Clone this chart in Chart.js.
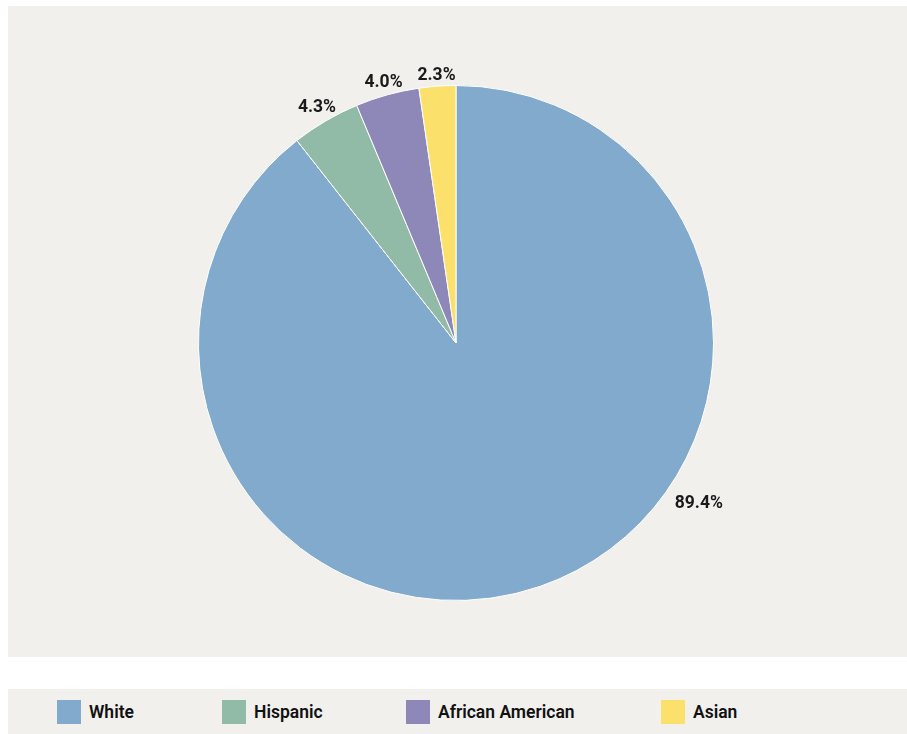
<!DOCTYPE html>
<html lang="en">
<head>
    <meta charset="UTF-8">
    <title>Population by Race/Ethnicity</title>
    <script src="https://cdn.jsdelivr.net/npm/chart.js"></script>
    <style>
        body { margin: 0; background: #fff; width: 907px; height: 734px; position: relative; overflow: hidden; }
        #panel { position: absolute; left: 8px; top: 6px; width: 899px; height: 651px; background: #f1f0ed; }
        #legend { position: absolute; left: 8px; top: 689px; width: 899px; height: 45px; background: #f1f0ed;
                  display: flex; align-items: center; padding-left: 49px; box-sizing: border-box;
                  font: 600 17.5px Roboto, "Liberation Sans", sans-serif; color: #111; }
        .item { display: flex; align-items: center; }
        .box { width: 24px; height: 24px; margin-right: 8px; }
    </style>
</head>
<body>
    <div id="panel"><canvas id="pie" width="899" height="651"></canvas></div>
    <div id="legend"></div>

    <script>
        // data
        const labels = ['White', 'Hispanic', 'African American', 'Asian'];
        const shares = [89.4, 4.3, 4.0, 2.3];
        const colors = ['#81aacd', '#91bba7', '#8e88b8', '#fbe06b'];

        // legend item widths (px), to keep the strip spacing of the original
        const legendWidths = [165, 184, 255, 120];

        // percent labels outside the pie
        const outsideLabels = {
            id: 'outsideLabels',
            afterDatasetsDraw(chart, args, opts) {
                const ctx = chart.ctx;
                const meta = chart.getDatasetMeta(0);
                ctx.save();
                ctx.font = 'bold 17.5px Roboto, "Liberation Sans", sans-serif';
                ctx.fillStyle = '#1a1a1a';
                ctx.textAlign = 'center';
                ctx.textBaseline = 'middle';
                meta.data.forEach((arc, i) => {
                    const p = arc.getProps(['x', 'y', 'startAngle', 'endAngle', 'outerRadius'], true);
                    let a = (p.startAngle + p.endAngle) / 2;
                    if (opts.angles[i] != null) a = opts.angles[i] * Math.PI / 180;
                    const r = p.outerRadius + opts.offsets[i];
                    ctx.fillText(shares[i].toFixed(1) + '%', p.x + r * Math.cos(a), p.y + r * Math.sin(a) + 1);
                });
                ctx.restore();
            }
        };

        new Chart(document.getElementById('pie'), {
            type: 'pie',
            data: {
                labels: labels,
                datasets: [{
                    data: shares,
                    backgroundColor: colors,
                    borderColor: '#ffffff',
                    borderWidth: 1
                }]
            },
            options: {
                responsive: false,
                animation: false,
                layout: { padding: { top: 79, bottom: 56, left: 190, right: 193 } },
                plugins: {
                    legend: { display: false },
                    tooltip: { enabled: false },
                    outsideLabels: { angles: [33.3, null, null, null], offsets: [33, 17, 14, 12] }
                }
            },
            plugins: [outsideLabels]
        });

        // legend strip
        const legend = document.getElementById('legend');
        labels.forEach((l, i) => {
            const item = document.createElement('div');
            item.className = 'item';
            item.style.width = legendWidths[i] + 'px';
            item.innerHTML = '<span class="box" style="background:' + colors[i] + '"></span><span>' + l + '</span>';
            legend.appendChild(item);
        });
    </script>
</body>
</html>
